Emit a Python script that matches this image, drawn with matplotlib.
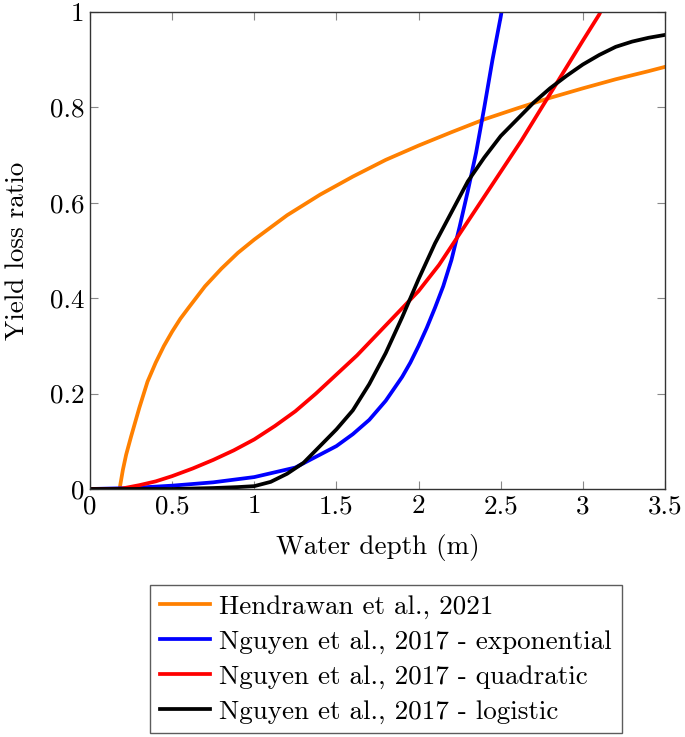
import matplotlib
matplotlib.use("Agg")
import matplotlib.pyplot as plt
import numpy as np

# values
hendrawan_x = [0.18, 0.19, 0.2, 0.22, 0.25, 0.3, 0.35, 0.4, 0.45, 0.5, 0.55, 0.6, 0.7, 0.8,
               0.9, 1.0, 1.2, 1.4, 1.6, 1.8, 2.0, 2.2, 2.4, 2.6, 2.8, 3.0, 3.2, 3.4, 3.5]
hendrawan_y = [0.0, 0.02, 0.04, 0.072, 0.11, 0.17, 0.225, 0.265, 0.3, 0.33, 0.357, 0.38,
               0.425, 0.462, 0.495, 0.523, 0.574, 0.617, 0.655, 0.69, 0.72, 0.748, 0.775,
               0.798, 0.82, 0.84, 0.859, 0.876, 0.885]

expo_x = [0.0, 0.25, 0.5, 0.75, 1.0, 1.25, 1.5, 1.6, 1.7, 1.8, 1.9, 1.95, 2.0, 2.05, 2.1,
          2.15, 2.2, 2.25, 2.3, 2.35, 2.4, 2.45, 2.5, 2.52]
expo_y = [0.0, 0.002, 0.007, 0.014, 0.025, 0.045, 0.09, 0.115, 0.145, 0.185, 0.235, 0.265,
          0.3, 0.338, 0.38, 0.425, 0.48, 0.55, 0.625, 0.705, 0.8, 0.9, 0.99, 1.03]

quad_x = [0.0, 0.18, 0.3, 0.4, 0.5, 0.625, 0.75, 0.875, 1.0, 1.125, 1.25, 1.375, 1.5,
          1.625, 1.75, 1.875, 2.0, 2.125, 2.25, 2.375, 2.5, 2.625, 2.75, 2.875, 3.0,
          3.1, 3.12]
quad_y = [0.0, 0.0, 0.008, 0.016, 0.027, 0.043, 0.061, 0.081, 0.104, 0.132, 0.163, 0.2,
          0.24, 0.28, 0.325, 0.37, 0.415, 0.47, 0.535, 0.6, 0.665, 0.73, 0.8, 0.87,
          0.94, 0.995, 1.01]

logi_x = [0.0, 0.5, 0.75, 0.9, 1.0, 1.1, 1.2, 1.3, 1.4, 1.5, 1.6, 1.7, 1.8, 1.9, 2.0,
          2.1, 2.2, 2.3, 2.4, 2.5, 2.6, 2.7, 2.8, 2.9, 3.0, 3.1, 3.2, 3.3, 3.4, 3.5]
logi_y = [0.0, 0.0, 0.002, 0.004, 0.006, 0.015, 0.032, 0.055, 0.09, 0.125, 0.165, 0.22,
          0.285, 0.36, 0.44, 0.515, 0.58, 0.645, 0.695, 0.74, 0.775, 0.81, 0.84, 0.866,
          0.89, 0.91, 0.927, 0.938, 0.946, 0.952]

labels = ['Hendrawan et al., 2021',
          'Nguyen et al., 2017 - exponential',
          'Nguyen et al., 2017 - quadratic',
          'Nguyen et al., 2017 - logistic']
colors = ['#ff8000', '#0000ff', '#ff0000', '#000000']

xticks = [0, 0.5, 1, 1.5, 2, 2.5, 3, 3.5]
xtick_labels = ['0', '0.5', '1', '1.5', '2', '2.5', '3', '3.5']
yticks = [0, 0.2, 0.4, 0.6, 0.8, 1]
ytick_labels = ['0', '0.2', '0.4', '0.6', '0.8', '1']

plt.rcParams['font.family'] = 'serif'
plt.rcParams['font.serif'] = ['cmr10']
plt.rcParams['axes.formatter.use_mathtext'] = True

fs = 19.5
fig = plt.figure(figsize=(6.85, 7.37), dpi=100)
ax = fig.add_axes([0.1314, 0.3365, 0.8394, 0.6472])

series = [(hendrawan_x, hendrawan_y), (expo_x, expo_y), (quad_x, quad_y), (logi_x, logi_y)]
for (xs, ys), lab, c in zip(series, labels, colors):
    ax.plot(xs, ys, color=c, lw=2.7, label=lab, solid_joinstyle='round')

ax.set_xlim(0, 3.5)
ax.set_ylim(0, 1)
ax.set_xticks(xticks)
ax.set_xticklabels(xtick_labels)
ax.set_yticks(yticks)
ax.set_yticklabels(ytick_labels)
ax.tick_params(direction='in', top=True, right=True, length=6, width=0.8,
               color='#888888', labelsize=fs, pad=4)
for s in ax.spines.values():
    s.set_color('#333333')
    s.set_linewidth(1.0)

ax.set_xlabel('Water depth (m)', fontsize=fs, labelpad=11)
ax.set_ylabel('Yield loss ratio', fontsize=fs, labelpad=15)

leg = fig.legend(loc='upper center', bbox_to_anchor=(0.5635, 0.206), fontsize=fs,
                 frameon=True, fancybox=False, edgecolor='#333333',
                 handlelength=1.85, handletextpad=0.35, labelspacing=0.4,
                 borderpad=0.35, borderaxespad=0)
leg.get_frame().set_linewidth(1.0)

fig.savefig('out.png', dpi=100)
